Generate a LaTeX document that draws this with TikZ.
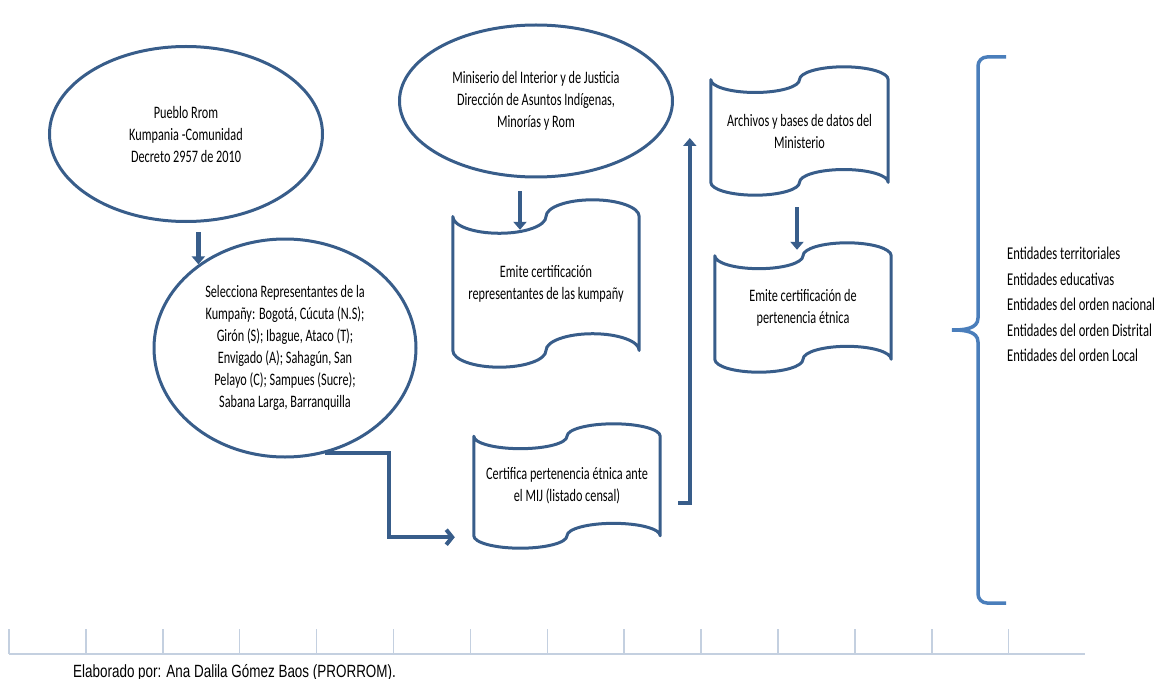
\documentclass[tikz,border=0pt]{standalone}
\usepackage{fontspec}
\newfontfamily\calib[FakeStretch=0.70]{Carlito}
\newfontfamily\narrowsans[FakeStretch=0.76]{Liberation Sans}
\usetikzlibrary{shapes.geometric,arrows.meta,calc}
\definecolor{darkblue}{RGB}{56,93,138}
\definecolor{braceblue}{RGB}{74,126,187}
\definecolor{rulegray}{RGB}{196,208,224}
\begin{document}
\begin{tikzpicture}[x=1pt,y=-1pt,
	oval/.style={ellipse,draw=darkblue,line width=3pt,align=center,font=\calib\fontsize{17.5}{22}\selectfont},
	tape/.style={align=center,font=\calib\fontsize{17.5}{22}\selectfont},
	tapeline/.style={darkblue,line width=3pt,line join=round},
	conn/.style={darkblue,line width=4.5pt,-{Triangle[length=8pt,width=13pt]}},
	connopen/.style={darkblue,line width=4pt,-{Straight Barb[length=6pt,width=15pt]}},
	bracestyle/.style={braceblue,line width=3.5pt},
	rulestyle/.style={rulegray,line width=1.5pt}]
	\tikzstyle{every node}+=[inner sep=0pt]
	\useasboundingbox (0,0) rectangle (1164,679);
	\node [oval,minimum width=273pt,minimum height=175pt] (rrom) at (186,134) {Pueblo Rrom\\Kumpania -Comunidad\\Decreto 2957 de 2010};
	\node [oval,minimum width=262pt,minimum height=218pt] (selecc) at (285,348) {Selecciona Representantes de la\\Kumpañy: Bogotá, Cúcuta (N.S);\\Girón (S); Ibague, Ataco (T);\\Envigado (A); Sahagún, San\\Pelayo (C); Sampues (Sucre);\\Sabana Larga, Barranquilla};
	\node [oval,minimum width=273pt,minimum height=152pt] (minis) at (536,101) {Miniserio del Interior y de Justicia\\Dirección de Asuntos Indígenas,\\Minorías y Rom};
	\node [tape,minimum width=186pt,minimum height=167pt] (emrep) at (546,283.5) {Emite certificación\\representantes de las kumpañy};
	\node [tape,minimum width=186pt,minimum height=124pt] (certif) at (567,486) {Certifica pertenencia étnica ante\\el MIJ (listado censal)};
	\node [tape,minimum width=177pt,minimum height=128pt] (archivos) at (799.5,131) {Archivos y bases de datos del\\Ministerio};
	\node [tape,minimum width=176pt,minimum height=129pt] (emperten) at (803,307.5) {Emite certificación de\\pertenencia étnica};
	\foreach \tp in {emrep,certif,archivos,emperten}
		\draw [tapeline] let \p1=(\tp.north west), \p2=(\tp.south east), \n1={(\x2-\x1)/4}, \n2={(\y1-\y2)/10} in
			(\x1,\y1-\n2) arc [start angle=180,end angle=360,x radius=\n1*1pt,y radius=\n2*1pt]
			arc [start angle=180,end angle=0,x radius=\n1*1pt,y radius=\n2*1pt]
			-- (\x2,\y2+\n2) arc [start angle=0,end angle=180,x radius=\n1*1pt,y radius=\n2*1pt]
			arc [start angle=0,end angle=-180,x radius=\n1*1pt,y radius=\n2*1pt] -- cycle;
	\draw [conn] ([yshift=-9pt]rrom.south -| selecc.136) -- (selecc.136);
	\draw [conn] ([xshift=-16pt,yshift=-13pt]minis.south) -- ([xshift=-26pt,yshift=-30pt]emrep.north);
	\draw [conn] ([xshift=-2.5pt,yshift=-12pt]archivos.south) -- ([xshift=-6pt,yshift=-7pt]emperten.north);
	\draw [connopen] (selecc.-69) -- ++(64,0) |- ([xshift=-19pt,yshift=11pt]certif.south west);
	\draw [conn] ([xshift=18pt,yshift=-17pt]certif.east) -| ([xshift=-21pt,yshift=-7pt]archivos.west);
	\draw [bracestyle] (1006,57) -- (987,57) to[out=180,in=90] (978,66) -- (978,318) to[out=-90,in=0] (952,330) to[out=0,in=90] (978,342) -- (978,594) to[out=-90,in=180] (987,603) -- (1006,603);
	\node [align=left,anchor=west,font=\calib\fontsize{18}{25.5}\selectfont] (entidades) at (1007,304.5) {Entidades territoriales\\Entidades educativas\\Entidades del orden nacional\\Entidades del orden Distrital\\Entidades del orden Local};
	\draw [rulestyle] (9,654) -- (1085,654);
	\foreach \i in {0,...,13}
		\draw [rulestyle] ({9+76.9*\i},629) -- ({9+76.9*\i},654);
	\node [anchor=base west,font=\narrowsans\fontsize{17.7}{21}\selectfont] (elaborado) at (73,677) {Elaborado por: Ana Dalila Gómez Baos (PRORROM).};
\end{tikzpicture}
\end{document}
